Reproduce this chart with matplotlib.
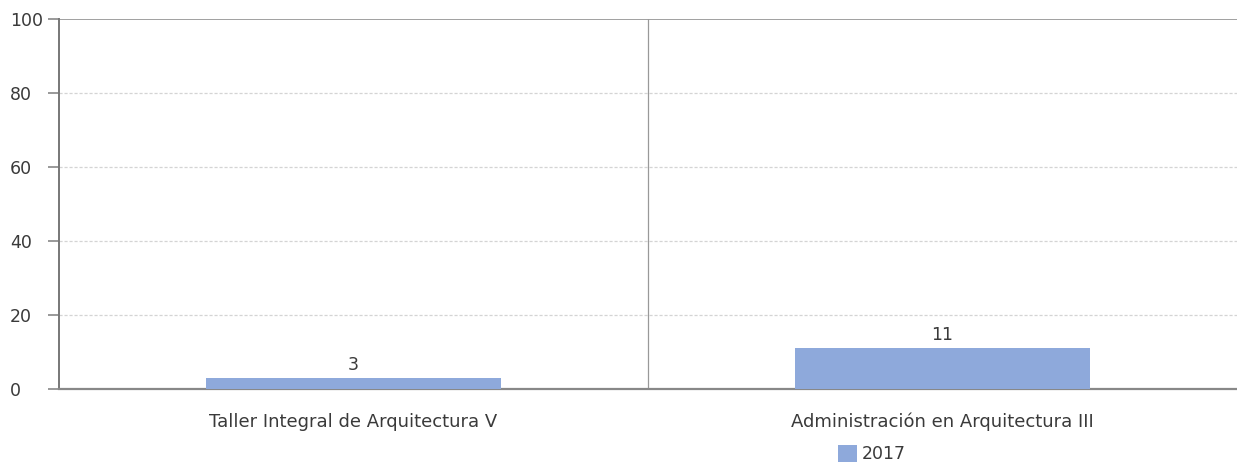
import matplotlib
matplotlib.use("Agg")
import matplotlib.pyplot as plt
import matplotlib.transforms as mtransforms

categories = ["Taller Integral de Arquitectura V", "Administración en Arquitectura III"]
values_2017 = [3, 11]
series_name = "2017"
yticks = [0, 20, 40, 60, 80, 100]

plt.rcParams['font.family'] = ['DejaVu Sans']
FS = 13
TXT = "#3a3a3a"

fig = plt.figure(figsize=(12.37, 4.65), dpi=100)
ax = fig.add_axes([59/1237, 1-389/465, 1-59/1237, (389-19)/465])

x = list(range(len(categories)))
ax.bar(x, values_2017, width=0.5, color="#8EA9DB", label=series_name, zorder=3)
for xi, v in zip(x, values_2017):
    ax.annotate(str(v), (xi, v), xytext=(0, 3), textcoords="offset points",
                ha="center", va="bottom", fontsize=FS - 0.5, color=TXT)

ax.set_xlim(-0.5, len(categories) - 0.5)
ax.set_ylim(0, 100)
ax.set_yticks(yticks)
ax.set_yticklabels([str(t) for t in yticks], fontsize=FS - 0.5, color=TXT)
shift = mtransforms.ScaledTranslation(0, -2/72, fig.dpi_scale_trans)
for lab in ax.get_yticklabels():
    lab.set_horizontalalignment("left")
    lab.set_transform(lab.get_transform() + shift)
ax.set_xticks(x)
ax.set_xticklabels(categories, fontsize=FS, color=TXT)
ax.tick_params(axis="x", length=0, pad=17)
ax.tick_params(axis="y", length=8, width=1.2, color="#888888", pad=27.5)

for t in yticks[1:-1]:
    ax.axhline(t, color="#d4d4d4", lw=0.9, ls=(0, (2.5, 1.5)), zorder=1)
ax.axhline(100, color="#a0a0a0", lw=1.4, zorder=2)
for b in range(len(categories) - 1):
    ax.axvline(b + 0.5, color="#999999", lw=0.9, zorder=2)

for s in ["top", "right"]:
    ax.spines[s].set_visible(False)
ax.spines["left"].set_color("#777777")
ax.spines["left"].set_linewidth(1.4)
ax.spines["bottom"].set_color("#888888")
ax.spines["bottom"].set_linewidth(1.6)

leg = fig.legend(loc="center", bbox_to_anchor=(872/1237, 1-454/465), frameon=False,
                 fontsize=FS - 0.5, handlelength=1.1, handleheight=1.1, handletextpad=0.3,
                 borderpad=0, borderaxespad=0)
for t in leg.get_texts():
    t.set_color(TXT)

fig.savefig("out.png", dpi=100)
